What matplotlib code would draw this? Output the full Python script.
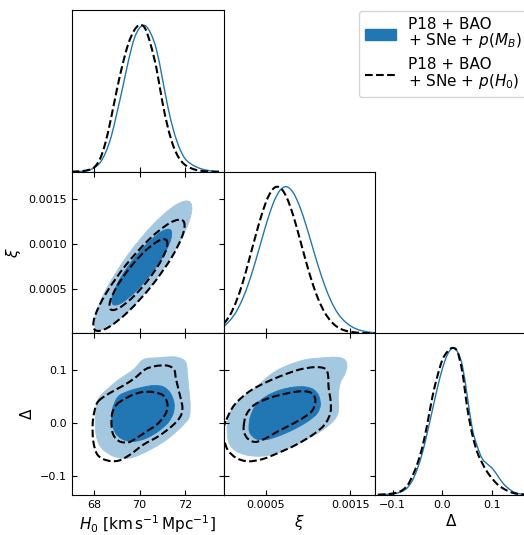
import numpy as np
import matplotlib
matplotlib.use('Agg')
import matplotlib.pyplot as plt
from matplotlib.path import Path
from matplotlib.patches import PathPatch, Patch
from matplotlib.lines import Line2D


# %% data
# 1D marginals (peak normalised to 1)
h0_grid = [67.0, 67.25, 67.5, 67.75, 68.0, 68.25, 68.5, 68.75, 69.0, 69.25, 69.5, 69.75,
           70.0, 70.25, 70.5, 70.75, 71.0, 71.25, 71.5, 71.75, 72.0, 72.25, 72.5, 72.75,
           73.0, 73.25, 73.5]
h0_mb = [0.0, 0.001, 0.003, 0.01, 0.027, 0.06, 0.13, 0.24, 0.40, 0.57, 0.75, 0.90,
         0.98, 0.995, 0.94, 0.83, 0.64, 0.44, 0.28, 0.165, 0.09, 0.055, 0.033, 0.018,
         0.009, 0.004, 0.001]
h0_h0 = [0.0, 0.002, 0.005, 0.012, 0.03, 0.085, 0.20, 0.37, 0.56, 0.73, 0.87, 0.96,
         1.0, 0.975, 0.86, 0.70, 0.48, 0.30, 0.17, 0.09, 0.047, 0.025, 0.012, 0.005,
         0.002, 0.0, 0.0]

# xi in units of 1e-3
xi_grid = [0.0, 0.075, 0.15, 0.225, 0.3, 0.375, 0.45, 0.525, 0.6, 0.675, 0.75, 0.825,
           0.9, 0.975, 1.05, 1.125, 1.2, 1.275, 1.35, 1.425, 1.5, 1.575, 1.65, 1.725, 1.8]
xi_mb = [0.045, 0.089, 0.149, 0.236, 0.350, 0.487, 0.637, 0.783, 0.904, 0.980, 0.999, 0.959,
         0.868, 0.741, 0.597, 0.453, 0.325, 0.219, 0.140, 0.088, 0.053, 0.030, 0.017, 0.009, 0.004]
xi_h0 = [0.065, 0.125, 0.22, 0.345, 0.499, 0.658, 0.808, 0.927, 0.992, 0.991, 0.923, 0.803,
         0.651, 0.493, 0.348, 0.229, 0.141, 0.081, 0.043, 0.022, 0.012, 0.006, 0.003, 0.001, 0.0]

delta_grid = [-0.13, -0.12, -0.11, -0.10, -0.09, -0.08, -0.07, -0.06, -0.05, -0.04, -0.03,
              -0.02, -0.01, 0.0, 0.01, 0.02, 0.03, 0.04, 0.05, 0.06, 0.07, 0.08, 0.09, 0.10,
              0.11, 0.12, 0.13, 0.14, 0.15, 0.16, 0.17]
delta_mb = [0.0, 0.001, 0.003, 0.006, 0.012, 0.025, 0.05, 0.10, 0.18, 0.29, 0.43,
            0.58, 0.73, 0.86, 0.955, 0.998, 0.975, 0.88, 0.67, 0.45, 0.33, 0.245, 0.21, 0.18,
            0.135, 0.085, 0.05, 0.025, 0.01, 0.004, 0.001]
delta_h0 = [0.0, 0.002, 0.004, 0.008, 0.016, 0.032, 0.065, 0.13, 0.215, 0.33, 0.49,
            0.67, 0.81, 0.92, 0.975, 1.0, 0.975, 0.835, 0.59, 0.41, 0.29, 0.215, 0.155, 0.11,
            0.072, 0.047, 0.028, 0.014, 0.006, 0.002, 0.0]

# 2D contour outlines (68% and 95%)
# H0 - xi
hx_mb95_h0 = [72.21, 72.26, 71.75, 70.82, 69.70, 68.71, 68.10, 68.05, 68.56, 69.49, 70.61, 71.60]
hx_mb95_xi = [1.469, 1.313, 1.008, 0.637, 0.297, 0.081, 0.046, 0.202, 0.507, 0.878, 1.218, 1.433]
hx_mb68_h0 = [71.36, 71.39, 71.08, 70.50, 69.81, 69.20, 68.83, 68.80, 69.11, 69.69, 70.38, 70.99]
hx_mb68_xi = [1.156, 1.061, 0.880, 0.661, 0.463, 0.339, 0.322, 0.417, 0.597, 0.816, 1.014, 1.139]
hx_h095_h0 = [71.91, 71.93, 71.43, 70.54, 69.50, 68.58, 68.04, 68.01, 68.51, 69.40, 70.44, 71.36]
hx_h095_xi = [1.259, 1.120, 0.854, 0.533, 0.243, 0.061, 0.037, 0.176, 0.442, 0.763, 1.053, 1.235]
hx_h068_h0 = [71.17, 71.20, 70.89, 70.33, 69.67, 69.08, 68.73, 68.70, 69.01, 69.57, 70.23, 70.82]
hx_h068_xi = [1.044, 0.954, 0.784, 0.580, 0.396, 0.281, 0.267, 0.357, 0.527, 0.731, 0.915, 1.030]

# H0 - Delta
hd_mb95_h0 = [68.33, 68.99, 69.73, 70.17, 70.76, 71.49, 71.86, 72.05, 72.11, 72.16, 72.23, 72.20,
              72.01, 71.64, 71.20, 70.61, 70.02, 69.58, 69.14, 68.70, 68.26, 68.07, 68.05, 68.12]
hd_mb95_d = [0.0543, 0.0795, 0.1016, 0.1205, 0.1237, 0.1256, 0.1218, 0.1142, 0.0953, 0.0700,
             0.0385, 0.0132, 0.0006, -0.0151, -0.0309, -0.0467, -0.0593, -0.0656, -0.0656,
             -0.0593, -0.0435, -0.0183, 0.0132, 0.0385]
hd_mb68_h0 = [68.84, 69.07, 69.51, 70.02, 70.61, 71.05, 71.35, 71.52, 71.49, 71.27, 70.83, 70.32,
              69.80, 69.36, 68.99, 68.80, 68.77]
hd_mb68_d = [0.0322, 0.0511, 0.0606, 0.0669, 0.0713, 0.0688, 0.0574, 0.0385, 0.0196, 0.0019,
             -0.0151, -0.0278, -0.0341, -0.0322, -0.0215, -0.0025, 0.0164]
hd_h095_h0 = [68.18, 68.70, 69.29, 69.80, 70.24, 70.68, 71.20, 71.52, 71.61, 71.79, 71.89, 71.79,
              71.42, 70.83, 70.17, 69.58, 69.07, 68.55, 68.14, 67.96, 67.93, 68.01]
hd_h095_d = [0.0416, 0.0574, 0.0713, 0.0858, 0.1016, 0.1079, 0.1091, 0.1016, 0.0826, 0.0511,
             0.0290, 0.0120, -0.0057, -0.0246, -0.0404, -0.0593, -0.0707, -0.0700, -0.0593,
             -0.0341, -0.0025, 0.0227]
hd_h068_h0 = [68.99, 69.29, 69.73, 70.17, 70.61, 71.05, 71.23, 71.13, 70.76, 70.32, 69.87, 69.51,
              69.11, 68.84, 68.76, 68.80]
hd_h068_d = [0.0353, 0.0448, 0.0543, 0.0593, 0.0587, 0.0524, 0.0353, 0.0164, -0.0025, -0.0151,
             -0.0278, -0.0360, -0.0341, -0.0215, -0.0006, 0.0196]

# xi - Delta
xd_mb95_xi = [0.071, 0.190, 0.348, 0.585, 0.783, 0.980, 1.178, 1.336, 1.435, 1.462, 1.435, 1.383,
              1.360, 1.364, 1.316, 1.178, 0.980, 0.743, 0.506, 0.308, 0.150, 0.063, 0.040, 0.051]
xd_mb95_d = [0.0196, 0.0448, 0.0637, 0.0953, 0.1110, 0.1205, 0.1237, 0.1249, 0.1205, 0.1079,
             0.0921, 0.0763, 0.0511, 0.0259, 0.0069, -0.0120, -0.0309, -0.0498, -0.0612, -0.0612,
             -0.0530, -0.0372, -0.0120, 0.0069]
xd_mb68_xi = [0.300, 0.316, 0.387, 0.506, 0.664, 0.822, 0.960, 1.067, 1.130, 1.146, 1.107, 1.000,
              0.842, 0.664, 0.506, 0.387, 0.316]
xd_mb68_d = [-0.0088, 0.0120, 0.0353, 0.0511, 0.0625, 0.0681, 0.0688, 0.0637, 0.0511, 0.0334,
             0.0183, 0.0038, -0.0107, -0.0233, -0.0309, -0.0297, -0.0196]
xd_h095_xi = [0.032, 0.130, 0.308, 0.506, 0.704, 0.901, 1.079, 1.198, 1.237, 1.245, 1.269, 1.265,
              1.198, 1.059, 0.862, 0.664, 0.466, 0.289, 0.150, 0.051, 0.004, -0.005]
xd_h095_d = [0.0069, 0.0353, 0.0606, 0.0776, 0.0909, 0.1016, 0.1060, 0.1035, 0.0921, 0.0669,
             0.0416, 0.0196, -0.0025, -0.0215, -0.0404, -0.0549, -0.0675, -0.0719, -0.0656,
             -0.0511, -0.0309, -0.0120]
xd_h068_xi = [0.237, 0.269, 0.368, 0.545, 0.743, 0.921, 1.040, 1.087, 1.059, 0.960, 0.802, 0.644,
              0.506, 0.379, 0.289, 0.245]
xd_h068_d = [-0.0057, 0.0164, 0.0353, 0.0479, 0.0562, 0.0606, 0.0574, 0.0448, 0.0259, 0.0120,
             -0.0025, -0.0151, -0.0278, -0.0353, -0.0297, -0.0183]

h0_ticks = [68, 70, 72]
h0_ticklabels = ['68', '70', '72']
xi_yticks = [0.0005, 0.0010, 0.0015]
xi_yticklabels = ['0.0005', '0.0010', '0.0015']
xi_xticks = [0.0005, 0.0015]
xi_xticklabels = ['0.0005', '0.0015']
d_ticks = [-0.1, 0.0, 0.1]
d_ticklabels = ['\u22120.1', '0.0', '0.1']

labels = ['P18 + BAO\n+ SNe + $p(M_B)$', 'P18 + BAO\n+ SNe + $p(H_0)$']

h0_lim = (67.02, 73.71)
xi_lim = (0.0, 0.0018)
d_lim = (-0.135, 0.170)

dark = '#2077b4'
light = '#a5c8e1'
line_blue = '#1f77b4'


# %% helpers
def smooth_path(xs, ys, closed=True):
    # catmull-rom curve through the read-off points, drawn as bezier segments
    p = np.column_stack([xs, ys]).astype(float)
    n = len(p)
    verts = [p[0]]
    codes = [Path.MOVETO]
    for i in range(n if closed else n - 1):
        if closed:
            p0, p1, p2, p3 = p[i - 1], p[i], p[(i + 1) % n], p[(i + 2) % n]
        else:
            p0, p1 = p[max(i - 1, 0)], p[i]
            p2, p3 = p[i + 1], p[min(i + 2, n - 1)]
        verts += [p1 + (p2 - p0) / 6, p2 - (p3 - p1) / 6, p2]
        codes += [Path.CURVE4] * 3
    return Path(verts, codes)


def contours(ax, mb95, mb68, h095, h068):
    ax.add_patch(PathPatch(smooth_path(*mb95), fc=light, ec=light, lw=0.6, zorder=1))
    ax.add_patch(PathPatch(smooth_path(*mb68), fc=dark, ec=dark, lw=0.6, zorder=2))
    for o in (h095, h068):
        ax.add_patch(PathPatch(smooth_path(*o), fill=False, ec='k', lw=1.5, ls='--', zorder=3))


def marginals(ax, x, y_mb, y_h0):
    ax.add_patch(PathPatch(smooth_path(x, y_mb, closed=False), fill=False, ec=line_blue, lw=1.0))
    ax.add_patch(PathPatch(smooth_path(x, y_h0, closed=False), fill=False, ec='k', lw=1.5, ls='--'))


e3 = 1e-3
fig = plt.figure(figsize=(5.24, 5.35), dpi=100)
W, H = 524, 535
col_left = [72, 223.7, 375.3]
col_w = 151.7
row_top = [10.3, 172.0, 333.3]
row_h = 161.4

axes = {}
for r in range(3):
    for c in range(r + 1):
        rect = [col_left[c] / W, 1 - (row_top[r] + row_h) / H, col_w / W, row_h / H]
        axes[(r, c)] = fig.add_axes(rect)

# diagonals
marginals(axes[(0, 0)], h0_grid, h0_mb, h0_h0)
axes[(0, 0)].set_xlim(h0_lim)
marginals(axes[(1, 1)], np.array(xi_grid) * e3, xi_mb, xi_h0)
axes[(1, 1)].set_xlim(xi_lim)
marginals(axes[(2, 2)], delta_grid, delta_mb, delta_h0)
axes[(2, 2)].set_xlim(d_lim)

for k in [(0, 0), (1, 1), (2, 2)]:
    axes[k].set_ylim(0, 1.1)
    axes[k].set_yticks([])
    axes[k].tick_params(axis='x', direction='in', top=False)

# 2D panels
ax = axes[(1, 0)]
contours(ax, (hx_mb95_h0, np.array(hx_mb95_xi) * e3), (hx_mb68_h0, np.array(hx_mb68_xi) * e3),
         (hx_h095_h0, np.array(hx_h095_xi) * e3), (hx_h068_h0, np.array(hx_h068_xi) * e3))
ax.set_xlim(h0_lim)
ax.set_ylim(xi_lim)

ax = axes[(2, 0)]
contours(ax, (hd_mb95_h0, hd_mb95_d), (hd_mb68_h0, hd_mb68_d),
         (hd_h095_h0, hd_h095_d), (hd_h068_h0, hd_h068_d))
ax.set_xlim(h0_lim)
ax.set_ylim(d_lim)

ax = axes[(2, 1)]
contours(ax, (np.array(xd_mb95_xi) * e3, xd_mb95_d), (np.array(xd_mb68_xi) * e3, xd_mb68_d),
         (np.array(xd_h095_xi) * e3, xd_h095_d), (np.array(xd_h068_xi) * e3, xd_h068_d))
ax.set_xlim(xi_lim)
ax.set_ylim(d_lim)

for k in [(1, 0), (2, 0), (2, 1)]:
    axes[k].tick_params(direction='in', top=True, right=True)

# ticks and labels
for r in range(3):
    axes[(r, 0)].set_xticks(h0_ticks)
    axes[(r, 0)].set_xticklabels(h0_ticklabels if r == 2 else [])
for r in (1, 2):
    axes[(r, 1)].set_xticks(xi_xticks)
    axes[(r, 1)].set_xticklabels(xi_xticklabels if r == 2 else [])
axes[(2, 2)].set_xticks(d_ticks)
axes[(2, 2)].set_xticklabels(d_ticklabels)

axes[(1, 0)].set_yticks(xi_yticks)
axes[(1, 0)].set_yticklabels(xi_yticklabels)
axes[(2, 0)].set_yticks(d_ticks)
axes[(2, 0)].set_yticklabels(d_ticklabels)
axes[(2, 1)].set_yticks(d_ticks)
axes[(2, 1)].set_yticklabels([])

for ax in axes.values():
    ax.tick_params(labelsize=8)

axes[(2, 0)].set_xlabel(r'$H_0\ [\mathrm{km}\,\mathrm{s}^{-1}\,\mathrm{Mpc}^{-1}]$', fontsize=11, labelpad=2.5)
axes[(2, 1)].set_xlabel(r'$\xi$', fontsize=11, labelpad=2.5)
axes[(2, 2)].set_xlabel(r'$\Delta$', fontsize=11, labelpad=2.5)
axes[(1, 0)].set_ylabel(r'$\xi$', fontsize=11)
axes[(2, 0)].set_ylabel(r'$\Delta$', fontsize=11)

handles = [Patch(facecolor=dark, edgecolor=dark),
           Line2D([], [], color='k', ls='--', lw=1.5)]
leg = fig.legend(handles, labels, loc='upper left', bbox_to_anchor=(359 / W, 1 - 11 / H),
                 borderaxespad=0, fontsize=11, labelspacing=0.45)
for t in leg.get_texts():
    t.set_linespacing(0.95)

fig.savefig('out.png', dpi=100)
